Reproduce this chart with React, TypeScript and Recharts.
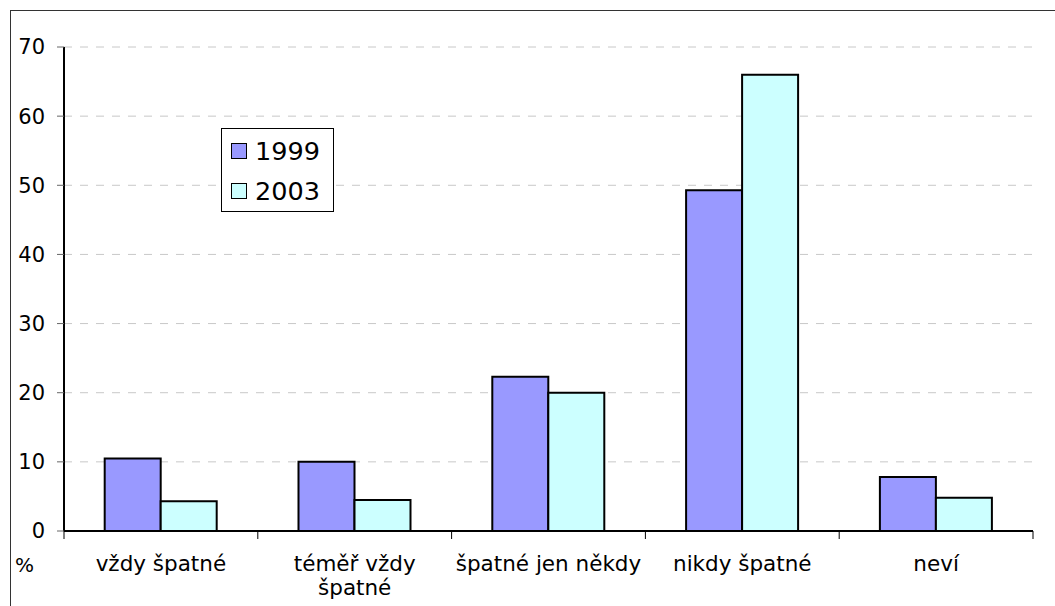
import { BarChart, Bar, XAxis, YAxis, CartesianGrid } from 'recharts';

// values (%)
const categories = ['vždy špatné', 'téměř vždy\nšpatné', 'špatné jen někdy', 'nikdy špatné', 'neví'];
const values1999 = [10.5, 10, 22.3, 49.3, 7.8];
const values2003 = [4.3, 4.5, 20, 66, 4.8];
const yTicks = [0, 10, 20, 30, 40, 50, 60, 70];

const series = [
  { key: 'y1999', name: '1999', color: '#9999FF' },
  { key: 'y2003', name: '2003', color: '#CCFFFF' },
];

const data = categories.map((name, i) => ({
  name,
  y1999: values1999[i],
  y2003: values2003[i],
}));

const FONT = '"DejaVu Sans", Verdana, sans-serif';
const W = 1055;
const H = 606;
const margin = { top: 47, right: 22, bottom: 0, left: 10 };
const yAxisWidth = 54;
const bandWidth = (W - margin.left - yAxisWidth - margin.right) / categories.length;

function CategoryTick(props: any) {
  const { x, y, payload } = props;
  const lines = String(payload.value).split('\n');
  const isLast = payload.value === categories[categories.length - 1];
  return (
    <g>
      <line x1={x - bandWidth / 2} x2={x - bandWidth / 2} y1={y} y2={y + 8} stroke="#000" strokeWidth={1} />
      {isLast && (
        <line x1={x + bandWidth / 2} x2={x + bandWidth / 2} y1={y} y2={y + 8} stroke="#000" strokeWidth={1} />
      )}
      <text x={x} y={y + 40} textAnchor="middle" fontFamily={FONT} fontSize={21.5} fill="#000">
        {lines.map((l, i) => (
          <tspan key={i} x={x} dy={i === 0 ? 0 : 24}>
            {l}
          </tspan>
        ))}
      </text>
    </g>
  );
}

function LegendBox() {
  return (
    <div
      style={{
        position: 'absolute',
        left: 221,
        top: 128,
        width: 111,
        height: 82,
        border: '1px solid #000',
        background: '#fff',
        fontFamily: FONT,
        fontSize: 25.5,
        color: '#000',
      }}
    >
      {series.map((s, i) => (
        <div key={s.key} style={{ display: 'flex', alignItems: 'center', height: 40, marginTop: i === 0 ? 2 : 0 }}>
          <span
            style={{
              display: 'inline-block',
              width: 14,
              height: 14,
              background: s.color,
              border: '1.5px solid #000',
              marginLeft: 9,
              marginRight: 8,
            }}
          />
          <span>{s.name}</span>
        </div>
      ))}
    </div>
  );
}

export default function App() {
  return (
    <div style={{ position: 'absolute', left: 0, top: 0, width: W, height: H, background: '#fff', overflow: 'hidden' }}>
      <div
        style={{
          position: 'absolute',
          left: 10,
          top: 10,
          width: W,
          height: H,
          borderLeft: '1.5px solid #333',
          borderTop: '1.5px solid #333',
        }}
      />
      <div style={{ position: 'absolute', left: 0, top: 0 }}>
        <BarChart width={W} height={H} data={data} margin={margin} barCategoryGap="21%" barGap={0}>
          <CartesianGrid vertical={false} stroke="#c8c8c8" strokeDasharray="8 8" />
          <XAxis
            dataKey="name"
            height={75}
            interval={0}
            tickLine={false}
            tickSize={0}
            tickMargin={0}
            axisLine={{ stroke: '#000', strokeWidth: 2 }}
            tick={<CategoryTick />}
          />
          <XAxis xAxisId="top" dataKey="name" orientation="top" height={0} tick={false} tickLine={false} axisLine={{ stroke: '#000', strokeWidth: 3 }} />
          <YAxis
            width={yAxisWidth}
            domain={[0, 70]}
            ticks={yTicks}
            interval={0}
            tickSize={7}
            tickMargin={12}
            axisLine={{ stroke: '#000', strokeWidth: 2 }}
            tickLine={{ stroke: '#666', strokeWidth: 1 }}
            tick={{ fontFamily: FONT, fontSize: 21, fill: '#000' }}
          />
          <YAxis yAxisId="right" orientation="right" width={0} domain={[0, 70]} tick={false} tickLine={false} axisLine={{ stroke: '#000', strokeWidth: 3 }} />
          {series.map((s) => (
            <Bar
              key={s.key}
              dataKey={s.key}
              name={s.name}
              fill={s.color}
              stroke="#000"
              strokeWidth={2}
              isAnimationActive={false}
            />
          ))}
        </BarChart>
      </div>
      <LegendBox />
      <div style={{ position: 'absolute', left: 15, top: 553, fontFamily: FONT, fontSize: 20, color: '#000' }}>%</div>
    </div>
  );
}
